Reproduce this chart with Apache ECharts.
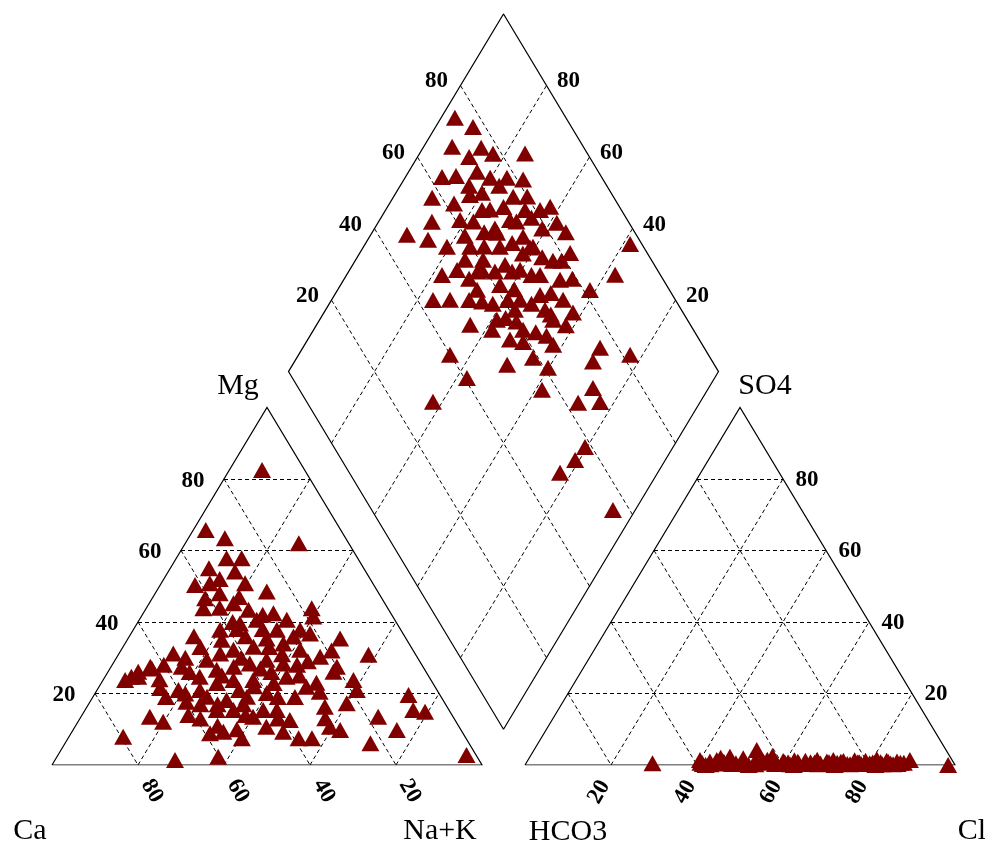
<!DOCTYPE html>
<html>
<head>
<meta charset="utf-8">
<script src="https://cdn.jsdelivr.net/npm/echarts@6/dist/echarts.min.js"></script>
<style>html,body{margin:0;padding:0;background:#fff;}#chart{width:985px;height:846px;}</style>
</head>
<body>
<div id="chart"></div>
<script>
// ---------------- data (percent of meq) ----------------
const tickValues = [20, 40, 60, 80];

// Cation triangle samples
const cationCa = [9.9,31.4,28.1,11.6,30.5,27.0,30.4,41.6,37.9,29.7,25.8,41.1,42.9,35.2,32.6,36.5,32.1,27.3,25.1,17.7,18.5,23.4,15.3,11.0,56.2,63.4,69.2,71.1,67.6,64.1,56.1,60.1,59.9,70.5,68.1,79.5,61.3,70.7,60.2,58.8,52.1,22.9,14.9,17.4,7.3,8.3,5.8,2.2,18.0,18.6,22.8,30.0,28.4,21.5,35.8,38.9,41.6,38.4,44.8,40.0,43.2,46.5,27.5,29.9,20.0,22.5,26.2,29.2,32.4,36.6,41.7,45.3,49.3,48.4,44.0,39.8,35.4,32.0,53.3,50.2,45.9,41.3,37.0,33.1,54.4,50.3,45.1,40.0,50.1,54.0,55.1,42.0,28.8,25.9,55.5,29.9,28.1,21.6,66.9,63.3,
  49,54,55,59,57,59,56,47,48,38,30,29,31,37,38,43,38,46,48,41,33,34,27,41,52,53,42,36,26,19,38,39,37,35,36,33,30,32,49,63,64,60];
const cationMg = [82.5,65.7,63.4,62.0,57.8,57.8,54.1,50.3,50.8,50.8,48.5,46.6,43.8,45.2,43.4,39.6,40.6,42.4,40.6,43.8,41.5,37.8,35.4,30.8,31.2,27.5,24.7,23.8,24.7,21.5,27.5,21.0,17.7,13.5,12.1,7.9,14.0,1.4,2.3,8.9,7.5,6.1,9.8,13.5,19.6,15.4,14.9,2.8,23.8,21.0,17.3,10.7,16.3,26.1,7.5,7.5,9.3,12.6,10.7,15.4,15.4,13.5,20.5,21.9,27.5,30.3,32.2,34.0,35.4,33.1,32.2,31.2,29.4,26.6,27.5,28.4,29.4,28.4,24.7,22.9,23.8,23.8,22.9,24.7,19.1,18.2,19.1,20.1,15.4,15.4,21.0,37.8,37.8,35.9,9.3,13.1,9.8,36.8,26.1,27.0,
  33,30,26,20,17,13,11,17,14,19,25,28,31,36,38,35,27,21,25,30,33,19,23,13,10,17,22,26,29,32,40,44,48,52,55,47,42,38,36,24,19,28];
const cationNaK = [7.6,2.9,8.5,26.4,11.7,15.2,15.5,8.1,11.3,19.5,25.7,12.3,13.3,19.6,24.0,23.9,27.3,30.3,34.3,38.5,40.0,38.8,49.3,58.2,12.6,9.1,6.1,5.1,7.7,14.4,16.4,18.9,22.4,16.0,19.8,12.6,24.7,27.9,37.5,32.3,40.4,71.0,75.3,69.1,73.1,76.3,79.3,95.0,58.2,60.4,59.9,59.3,55.3,52.4,56.7,53.6,49.1,49.0,44.5,44.6,41.4,40.0,52.0,48.2,52.5,47.2,41.6,36.8,32.2,30.3,26.1,23.5,21.3,25.0,28.5,31.8,35.2,39.6,22.0,26.9,30.3,34.9,40.1,42.2,26.5,31.5,35.8,39.9,34.5,30.6,23.9,20.2,33.4,38.2,35.2,57.0,62.1,41.6,7.0,9.7,
  18,16,19,21,26,28,33,36,38,43,45,43,38,27,24,22,35,33,27,29,34,47,50,46,38,30,36,38,45,49,22,17,15,13,9,20,28,30,15,13,17,12];

// Anion triangle samples
const anionHCO3 = [70.1,58.6,58.5,56.5,54.7,54.6,51.2,51.6,50.7,48.3,44.0,45.8,44.9,42.9,41.6,41.3,39.4,38.5,36.7,36.1,34.2,33.2,31.3,31.1,29.3,27.6,27.1,25.4,24.9,22.7,21.9,20.2,19.6,17.4,16.9,15.3,14.8,13.0,12.4,9.8,1.6,58.0,48.0,37.5,28.0,18.5,14.3,53.5,41.2,
  58.9,56.8,53.3,51.7,48.8,46.3,44.1,41.7,39.2,38.3,36.1,34.4,32.3,31.8,28.9,28.2,26.1,24.3,22.2,21.7,18.8,16.8,15.1,13.2,11.6];
const anionSO4 = [0.5,1.4,0.3,1.0,1.4,0.4,2.3,0.8,0.5,1.9,4.2,1.2,0.6,1.5,1.4,0.4,1.1,0.7,1.3,0.5,1.2,0.8,1.5,0.4,1.0,1.4,0.6,1.1,0.3,1.3,0.7,1.2,0.5,1.6,0.8,1.2,0.4,1.0,0.6,1.4,0.0,0.0,0.0,0.0,0.0,0.0,0.2,2.0,2.5,
  0.6,0.2,0.9,0.3,0.7,0.2,0.9,0.3,0.8,0.2,0.9,0.3,0.7,0.2,0.8,0.3,0.9,0.2,0.8,0.3,0.7,0.2,0.9,0.3,0.6];
const anionCl = [29.4,40.0,41.2,42.5,43.9,45.0,46.5,47.6,48.8,49.8,51.8,53.0,54.5,55.6,57.0,58.3,59.5,60.8,62.0,63.4,64.6,66.0,67.2,68.5,69.7,71.0,72.3,73.5,74.8,76.0,77.4,78.6,79.9,81.0,82.3,83.5,84.8,86.0,87.0,88.8,98.4,42.0,52.0,62.5,72.0,81.5,85.5,44.5,56.3,
  40.5,43.0,45.8,48.0,50.5,53.5,55.0,58.0,60.0,61.5,63.0,65.3,67.0,68.0,70.3,71.5,73.0,75.5,77.0,78.0,80.5,83.0,84.0,86.5,87.8];

// Diamond samples (SO4+Cl %, Ca+Mg %)
const diamondSO4Cl = [74.2,77.1,69.5,76.1,78.0,85.5,62.9,66.3,71.8,74.0,77.9,81.4,57.7,66.9,67.6,76.7,81.1,83.9,54.3,61.1,46.7,50.9,54.3,59.7,67.9,66.6,73.4,74.3,83.2,82.1,97.3,89.5,81.5,74.4,73.5,60.9,53.4,49.2,43.6,47.6,54.8,55.3,63.9,73.9,55.7,48.8,53.2,60.4,68.8,65.3,58.7,39.9,51.8,58.8,60.9,75.8,72.2,81.8,40.6,29.4,56.4,63.0,68.5,68.2,58.4,54.3,49.0,56.1,65.3,68.1,72.0,76.0,61.3,69.2,61.3,68.3,56.7,72.7,69.5,77.6,59.2,
  64,70,73,63,58,66,70,62,57,64,70,75,79,77,72,66,60,63,69,79,78,80,75,68,72,65,60,55,52,58,71,74,68,61,56,65,71,79,84,62];
const diamondCaMg = [96.8,91.3,93.4,86.5,82.9,75.5,91.5,88.4,84.1,80.2,76.3,72.3,90.9,82.5,77.6,72.2,64.1,62.2,87.6,81.3,91.6,86.0,80.6,75.2,70.9,68.3,64.3,60.6,58.4,51.1,38.4,37.6,41.3,42.1,61.2,70.4,75.0,77.8,76.4,72.5,64.8,67.6,56.2,46.2,58.8,64.3,58.5,51.3,45.7,42.2,49.6,64.8,50.1,45.1,40.2,30.9,30.6,22.9,57.6,62.2,38.5,28.3,26.9,23.3,20.5,21.0,22.7,5.2,64.6,60.4,55.0,49.7,62.9,52.2,56.0,49.0,74.6,69.7,75.8,67.6,69.2,
  78,80,73,72,70,62,66,66,62,59,57,57,61,54,50,53,54,48,47,47,65,69,77,84,88,74,78,71,68,57,62,68,72,59,53,45,42,52,55,85];

// ---------------- geometry (data space) ----------------
const SQ = Math.sqrt(3) / 2;
const GAP = 10;
function cationXY(ca, mg, nak) {
  const s = ca + mg + nak;
  return [(nak + mg / 2) / s * 100, mg / s * 100 * SQ];
}
function anionXY(hco3, so4, cl) {
  const s = hco3 + so4 + cl;
  return [100 + GAP + (cl + so4 / 2) / s * 100, so4 / s * 100 * SQ];
}
function diamondXY(sc, cm) {
  return [(200 + GAP - cm + sc) / 2, SQ * (GAP + sc + cm)];
}

const outlines = [
  {coords: [cationXY(100,0,0), cationXY(0,0,100), cationXY(0,100,0), cationXY(100,0,0)]},
  {coords: [anionXY(100,0,0), anionXY(0,0,100), anionXY(0,100,0), anionXY(100,0,0)]},
  {coords: [diamondXY(0,0), diamondXY(100,0), diamondXY(100,100), diamondXY(0,100), diamondXY(0,0)]}
];
const gridLines = [];
tickValues.forEach(t => {
  gridLines.push({coords: [cationXY(100-t, t, 0), cationXY(0, t, 100-t)]});
  gridLines.push({coords: [cationXY(t, 100-t, 0), cationXY(t, 0, 100-t)]});
  gridLines.push({coords: [cationXY(100-t, 0, t), cationXY(0, 100-t, t)]});
  gridLines.push({coords: [anionXY(100-t, t, 0), anionXY(0, t, 100-t)]});
  gridLines.push({coords: [anionXY(t, 100-t, 0), anionXY(t, 0, 100-t)]});
  gridLines.push({coords: [anionXY(100-t, 0, t), anionXY(0, 100-t, t)]});
  gridLines.push({coords: [diamondXY(t, 0), diamondXY(t, 100)]});
  gridLines.push({coords: [diamondXY(0, t), diamondXY(100, t)]});
});

const cationPts = cationCa.map((c, i) => cationXY(c, cationMg[i], cationNaK[i]));
const anionPts = anionHCO3.map((h, i) => anionXY(h, anionSO4[i], anionCl[i]));
const diamondPts = diamondSO4Cl.map((s, i) => diamondXY(s, diamondCaMg[i]));

const MARK = {symbol: 'triangle', symbolSize: [18, 16], itemStyle: {color: '#800000', opacity: 1}};

const chart = echarts.init(document.getElementById('chart'), null, {renderer: 'canvas'});
chart.setOption({
  animation: false,
  backgroundColor: '#ffffff',
  grid: {left: 52, right: 30, top: 14, bottom: 81, containLabel: false},
  xAxis: {type: 'value', min: 0, max: 200 + GAP, show: false},
  yAxis: {type: 'value', min: 0, max: SQ * (200 + GAP), show: false},
  series: [
    {type: 'lines', coordinateSystem: 'cartesian2d', data: gridLines, silent: true, z: 1,
     lineStyle: {color: '#000', width: 1, type: [4, 3], opacity: 1, curveness: 0}},
    {type: 'lines', coordinateSystem: 'cartesian2d', polyline: true, data: outlines, silent: true, z: 2,
     lineStyle: {color: '#000', width: 1.2, opacity: 1, curveness: 0}},
    Object.assign({type: 'scatter', data: cationPts, clip: false, z: 5}, MARK),
    Object.assign({type: 'scatter', data: anionPts, clip: false, z: 5}, MARK),
    Object.assign({type: 'scatter', data: diamondPts, clip: false, z: 5}, MARK)
  ]
});

// ---------------- text labels ----------------
const FAM = "'Liberation Serif','DejaVu Serif','Times New Roman',serif";
const TICKFONT = 'bold 23px ' + FAM;
const VERTFONT = '30px ' + FAM;
const texts = [];
function px(pt) { return chart.convertToPixel({gridIndex: 0}, pt); }
function addText(text, pt, dx, dy, font, rot) {
  const p = px(pt);
  texts.push({type: 'text', x: p[0] + dx, y: p[1] + dy, rotation: rot || 0, silent: true, z: 100,
    style: {text: text, font: font, fill: '#000', align: 'center', verticalAlign: 'middle',
            textAlign: 'center', textVerticalAlign: 'middle'}});
}
tickValues.forEach(t => {
  addText(String(t), cationXY(100-t, t, 0), -31, 2, TICKFONT);
  addText(String(t), cationXY(t, 0, 100-t), 14, 26, TICKFONT, -Math.PI / 3);
  addText(String(t), anionXY(0, t, 100-t), 24, 1, TICKFONT);
  addText(String(t), anionXY(100-t, 0, t), -12, 27, TICKFONT, Math.PI / 3);
  addText(String(t), diamondXY(t, 100), -24, -4, TICKFONT);
  addText(String(t), diamondXY(100, t), 22, -4, TICKFONT);
});
addText('Ca', cationXY(100,0,0), -22, 66, VERTFONT);
addText('Na+K', cationXY(0,0,100), -42, 66, VERTFONT);
addText('Mg', cationXY(0,100,0), -29, -21, VERTFONT);
addText('HCO3', anionXY(100,0,0), 43, 67, VERTFONT);
addText('Cl', anionXY(0,0,100), 17, 66, VERTFONT);
addText('SO4', anionXY(0,100,0), 25, -21, VERTFONT);
chart.setOption({graphic: {elements: texts}});
</script>
</body>
</html>
